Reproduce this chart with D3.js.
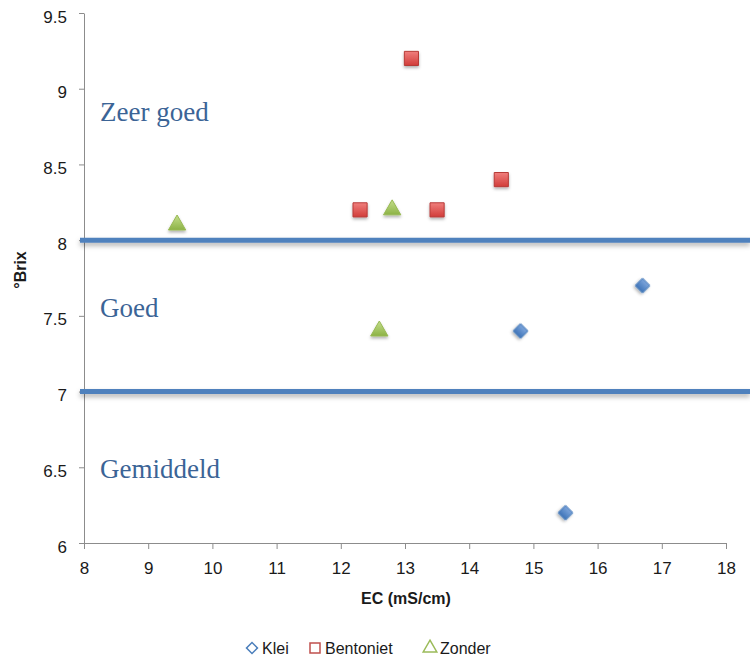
<!DOCTYPE html>
<html>
<head>
<meta charset="utf-8">
<script src="https://cdn.jsdelivr.net/npm/d3@7"></script>
<style>
  body { margin: 0; background: #fff; }
  svg { display: block; }
  .axis path, .axis line { stroke: #8c8c8c; }
  .axis text { font-family: "Liberation Sans", Arial, sans-serif; font-size: 17px; fill: #1a1a1a; }
</style>
</head>
<body>
<script>
// data
const kleiEC = [14.8, 16.7, 15.5];
const kleiBrix = [7.4, 7.7, 6.2];
const bentonietEC = [13.1, 12.3, 13.5, 14.5];
const bentonietBrix = [9.2, 8.2, 8.2, 8.4];
const zonderEC = [9.45, 12.8, 12.6];
const zonderBrix = [8.1, 8.2, 7.4];
const xTicks = [8, 9, 10, 11, 12, 13, 14, 15, 16, 17, 18];
const yTicks = [6, 6.5, 7, 7.5, 8, 8.5, 9, 9.5];
const bands = [8, 7]; // class boundaries
const bandLabels = [
  { text: 'Zeer goed', y: 8.79 },
  { text: 'Goed', y: 7.49 },
  { text: 'Gemiddeld', y: 6.43 }
];

const svgWidth = 750, svgHeight = 657;
const margin = { top: 13, right: 24, bottom: 114, left: 84 };
const width = svgWidth - margin.left - margin.right;
const height = svgHeight - margin.top - margin.bottom;

const svg = d3.select('body').append('svg')
  .attr('width', svgWidth)
  .attr('height', svgHeight);

const defs = svg.append('defs');
const shadow = defs.append('filter').attr('id', 'shadow')
  .attr('x', '-50%').attr('y', '-50%').attr('width', '200%').attr('height', '200%');
shadow.append('feDropShadow').attr('dx', 0).attr('dy', 2).attr('stdDeviation', 1.5)
  .attr('flood-color', '#000').attr('flood-opacity', 0.3);
const lineShadow = defs.append('filter').attr('id', 'lineShadow')
  .attr('filterUnits', 'userSpaceOnUse')
  .attr('x', -20).attr('y', 0).attr('width', svgWidth + 20).attr('height', svgHeight);
lineShadow.append('feDropShadow').attr('dx', 0).attr('dy', 3).attr('stdDeviation', 2.5)
  .attr('flood-color', '#000').attr('flood-opacity', 0.3);

function grad(id, top, bottom) {
  const g = defs.append('linearGradient').attr('id', id)
    .attr('x1', 0).attr('y1', 0).attr('x2', 0).attr('y2', 1);
  g.append('stop').attr('offset', '0%').attr('stop-color', top);
  g.append('stop').attr('offset', '100%').attr('stop-color', bottom);
}
grad('gBlue', '#7ea6dc', '#3f74b8');
grad('gRed', '#f07f7d', '#d13c39');
grad('gGreen', '#c5df8c', '#8cb245');

const chart = svg.append('g')
  .attr('transform', `translate(${margin.left},${margin.top})`);

const x = d3.scaleLinear().domain([8, 18]).range([0, width]);
const y = d3.scaleLinear().domain([6, 9.5]).range([height, 0]);

// axes
const xAxis = chart.append('g')
  .attr('class', 'axis')
  .attr('transform', `translate(0,${height})`)
  .call(d3.axisBottom(x).tickValues(xTicks).tickSize(6).tickSizeOuter(0).tickFormat(d3.format('d')));
xAxis.selectAll('text').attr('y', 31).attr('dy', 0);

const yAxis = chart.append('g')
  .attr('class', 'axis')
  .call(d3.axisLeft(y).tickValues(yTicks).tickSize(5).tickPadding(12).tickSizeOuter(0).tickFormat(d => d));
yAxis.selectAll('text').attr('dy', 9);

// class boundary lines
chart.selectAll('.band')
  .data(bands)
  .enter().append('line')
  .attr('class', 'band')
  .attr('x1', -4)
  .attr('x2', svgWidth - margin.left)
  .attr('y1', d => y(d))
  .attr('y2', d => y(d))
  .attr('stroke', '#4f81bd')
  .attr('stroke-width', 5)
  .attr('filter', 'url(#lineShadow)');

chart.selectAll('.band-label')
  .data(bandLabels)
  .enter().append('text')
  .attr('class', 'band-label')
  .attr('x', 16)
  .attr('y', d => y(d.y))
  .style('font-family', '"Liberation Serif", "Times New Roman", serif')
  .style('font-size', '27px')
  .style('fill', '#3b6496')
  .text(d => d.text);

// markers
const sq = d3.symbol().type(d3.symbolSquare).size(200);
const tri = d3.symbol().type(d3.symbolTriangle).size(130);

chart.selectAll('.klei')
  .data(kleiEC.map((v, i) => [v, kleiBrix[i]]))
  .enter().append('path')
  .attr('class', 'klei')
  .attr('d', d3.symbol().type(d3.symbolSquare).size(105))
  .attr('transform', d => `translate(${x(d[0])},${y(d[1])}) rotate(45)`)
  .attr('fill', 'url(#gBlue)')
  .attr('stroke', '#4a7ebb')
  .attr('stroke-width', 1)
  .attr('filter', 'url(#shadow)');

chart.selectAll('.bentoniet')
  .data(bentonietEC.map((v, i) => [v, bentonietBrix[i]]))
  .enter().append('path')
  .attr('class', 'bentoniet')
  .attr('d', sq)
  .attr('transform', d => `translate(${x(d[0])},${y(d[1])})`)
  .attr('fill', 'url(#gRed)')
  .attr('stroke', '#b73a37')
  .attr('stroke-width', 1)
  .attr('filter', 'url(#shadow)');

chart.selectAll('.zonder')
  .data(zonderEC.map((v, i) => [v, zonderBrix[i]]))
  .enter().append('path')
  .attr('class', 'zonder')
  .attr('d', tri)
  .attr('transform', d => `translate(${x(d[0])},${y(d[1])})`)
  .attr('fill', 'url(#gGreen)')
  .attr('stroke', '#98b954')
  .attr('stroke-width', 1)
  .attr('filter', 'url(#shadow)');

// axis titles
svg.append('text')
  .attr('x', 406)
  .attr('y', 604)
  .attr('text-anchor', 'middle')
  .style('font-family', '"Liberation Sans", Arial, sans-serif')
  .style('font-size', '16px')
  .style('font-weight', 'bold')
  .style('fill', '#1a1a1a')
  .text('EC (mS/cm)');

svg.append('text')
  .attr('transform', 'translate(26,270) rotate(-90)')
  .attr('text-anchor', 'middle')
  .style('font-family', '"Liberation Sans", Arial, sans-serif')
  .style('font-size', '16px')
  .style('font-weight', 'bold')
  .style('fill', '#1a1a1a')
  .text('°Brix');

// legend
const legendItems = [
  { name: 'Klei', x: 252, shape: d3.symbolSquare, rot: 45, color: '#4a7ebb' },
  { name: 'Bentoniet', x: 315, shape: d3.symbolSquare, rot: 0, color: '#c0504d' },
  { name: 'Zonder', x: 430, shape: d3.symbolTriangle, rot: 0, color: '#9bbb59' }
];
const legend = svg.append('g').attr('transform', 'translate(0,648)');
legend.selectAll('path')
  .data(legendItems)
  .enter().append('path')
  .attr('d', d => d3.symbol().type(d.shape).size(d.rot ? 60 : (d.shape === d3.symbolTriangle ? 80 : 100))())
  .attr('transform', d => `translate(${d.x},0) rotate(${d.rot})`)
  .attr('fill', 'none')
  .attr('stroke', d => d.color)
  .attr('stroke-width', 1.5);
legend.selectAll('text')
  .data(legendItems)
  .enter().append('text')
  .attr('x', d => d.x + 10)
  .attr('y', 6)
  .style('font-family', '"Liberation Sans", Arial, sans-serif')
  .style('font-size', '16px')
  .style('fill', '#1a1a1a')
  .text(d => d.name);
</script>
</body>
</html>
